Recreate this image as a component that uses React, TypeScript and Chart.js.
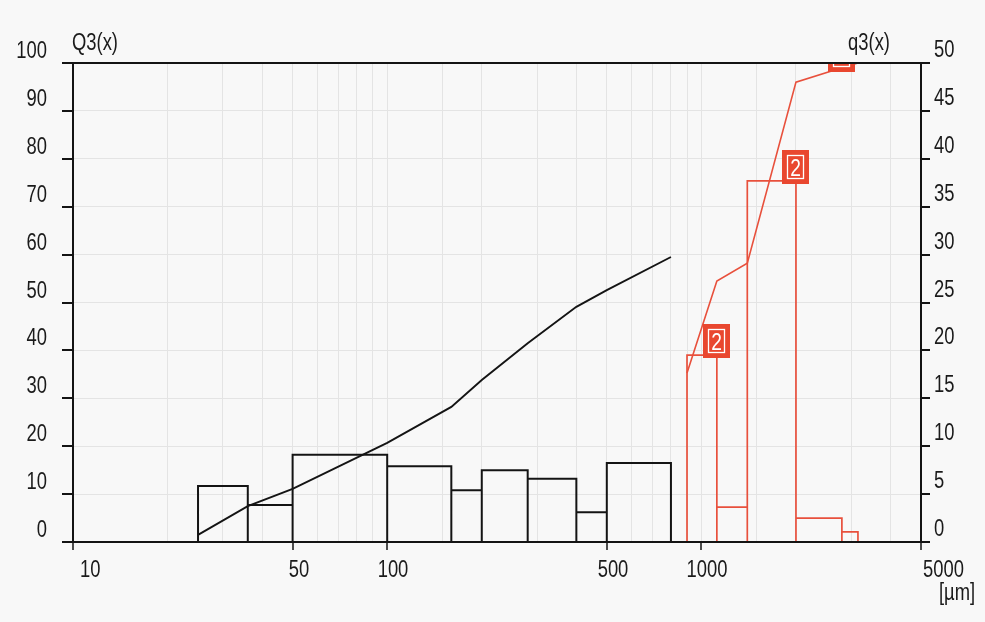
import React, { useEffect, useRef } from "react";
import { Chart, registerables } from "chart.js";

Chart.register(...registerables);

// ---- data ----
const blackEdges = [25, 36, 50, 100, 160, 200, 280, 400, 500, 800];
const blackDensity = [5.85, 3.85, 9.1, 7.9, 5.4, 7.5, 6.6, 3.1, 8.25];
const blackCumulative = [1.5, 7.5, 11.1, 20.7, 28.2, 33.8, 41.5, 49.1, 52.6, 59.5];

const redEdges = [900, 1120, 1400, 2000, 2800, 3150];
const redDensity = [19.5, 3.65, 37.7, 2.5, 1.05];
const redCumulative = [35.3, 54.5, 58.2, 96.0, 99.0, 100];

const markerX = [1120, 2000, 2800];
const markerQ3 = [19.2, 37.4, 49.1];
const markerLabels = ["2", "2", "2"];

const xTickValues = [10, 50, 100, 500, 1000, 5000];
const xTickLabels = ["10", "50", "100", "500", "1000", "5000"];
const leftTickValues = [0, 10, 20, 30, 40, 50, 60, 70, 80, 90, 100];
const rightTickValues = [0, 5, 10, 15, 20, 25, 30, 35, 40, 45, 50];

const leftTitle = "Q3(x)";
const rightTitle = "q3(x)";
const xUnit = "[µm]";

// ---- styles ----
const BG = "#f8f8f8";
const TEXT = "#1a1a1a";
const GRID = "#e4e4e4";
const BLACK = "#141414";
const RED = "#e8503c";
const MARKER = "#e9472f";
const FONT = '"Liberation Sans", Arial, sans-serif';
const SX = 0.8; // horizontal squeeze to mimic a narrow face

function outline(edges: number[], heights: number[]) {
  const pts: { x: number; y: number | null }[] = [];
  for (let i = 0; i < heights.length; i++) {
    const h = heights[i];
    pts.push({ x: edges[i], y: 0 });
    pts.push({ x: edges[i], y: h });
    pts.push({ x: edges[i + 1], y: h });
    pts.push({ x: edges[i + 1], y: 0 });
    pts.push({ x: edges[i + 1], y: null });
  }
  return pts;
}

function cumulative(edges: number[], vals: number[]) {
  return vals.map((v, i) => ({ x: edges[i], y: v }));
}

function narrowText(ctx: CanvasRenderingContext2D, text: string, x: number, y: number, align: "left" | "right" | "center") {
  const w = ctx.measureText(text).width * SX;
  let left = x;
  if (align === "right") left = x - w;
  else if (align === "center") left = x - w / 2;
  ctx.save();
  ctx.translate(left, y);
  ctx.scale(SX, 1);
  ctx.textAlign = "left";
  ctx.fillText(text, 0, 0);
  ctx.restore();
}

const overlay = {
  id: "overlay",
  beforeDraw(chart: any) {
    const { ctx } = chart;
    ctx.save();
    ctx.fillStyle = BG;
    ctx.fillRect(0, 0, chart.width, chart.height);
    ctx.restore();
  },
  afterDatasetsDraw(chart: any) {
    const { ctx, chartArea } = chart;
    const xs = chart.scales.x;
    const yr = chart.scales.y2;
    ctx.save();
    ctx.beginPath();
    ctx.rect(chartArea.left, chartArea.top, chartArea.right - chartArea.left, chartArea.bottom - chartArea.top);
    ctx.clip();
    const w = 27;
    const h = 34;
    for (let i = 0; i < markerX.length; i++) {
      const cx = xs.getPixelForValue(markerX[i]);
      const bottom = yr.getPixelForValue(markerQ3[i]);
      const left = Math.round(cx - w / 2);
      const top = Math.round(bottom - h);
      ctx.fillStyle = MARKER;
      ctx.fillRect(left, top, w, h);
      ctx.strokeStyle = "#ffffff";
      ctx.lineWidth = 1.3;
      ctx.strokeRect(left + 5.5, top + 5.5, w - 11, h - 11);
      ctx.fillStyle = "#ffffff";
      ctx.font = `24px ${FONT}`;
      ctx.textBaseline = "alphabetic";
      narrowText(ctx, markerLabels[i], left + w / 2, top + h / 2 + 8.5, "center");
    }
    ctx.restore();
  },
  afterDraw(chart: any) {
    const { ctx, chartArea } = chart;
    const xs = chart.scales.x;
    const yl = chart.scales.y;
    const yr = chart.scales.y2;
    const L = chartArea.left;
    const R = chartArea.right;
    const T = chartArea.top;
    const B = chartArea.bottom;
    ctx.save();
    // frame
    ctx.strokeStyle = BLACK;
    ctx.lineWidth = 2;
    ctx.beginPath();
    ctx.moveTo(L, T);
    ctx.lineTo(R, T);
    ctx.lineTo(R, B);
    ctx.lineTo(L, B);
    ctx.closePath();
    ctx.stroke();

    ctx.font = `23px ${FONT}`;
    ctx.fillStyle = TEXT;
    ctx.textBaseline = "alphabetic";
    // left ticks + labels
    ctx.lineWidth = 2;
    leftTickValues.forEach((v) => {
      const y = Math.round(yl.getPixelForValue(v));
      ctx.beginPath();
      ctx.moveTo(L - 11, y);
      ctx.lineTo(L, y);
      ctx.stroke();
      narrowText(ctx, String(v), L - 26, y - 5, "right");
    });
    // right ticks + labels
    rightTickValues.forEach((v) => {
      const y = Math.round(yr.getPixelForValue(v));
      ctx.beginPath();
      ctx.moveTo(R, y);
      ctx.lineTo(R + 9, y);
      ctx.stroke();
      narrowText(ctx, String(v), R + 13, y - 6, "left");
    });
    // bottom ticks + labels
    ctx.lineWidth = 1.5;
    xTickValues.forEach((v, i) => {
      const x = Math.min(R, Math.round(xs.getPixelForValue(v)));
      ctx.beginPath();
      ctx.moveTo(x, B);
      ctx.lineTo(x, B + 8);
      ctx.stroke();
      if (i === 0) narrowText(ctx, xTickLabels[i], x + 7, B + 35, "left");
      else if (i === xTickValues.length - 1) narrowText(ctx, xTickLabels[i], x + 2, B + 35, "left");
      else narrowText(ctx, xTickLabels[i], x + 6, B + 35, "center");
    });
    // titles
    narrowText(ctx, leftTitle, L - 1, T - 13, "left");
    narrowText(ctx, rightTitle, R - 31, T - 13, "right");
    narrowText(ctx, xUnit, R + 18, B + 58, "left");
    ctx.restore();
  },
};

export default function App() {
  const ref = useRef<HTMLCanvasElement | null>(null);

  useEffect(() => {
    if (!ref.current) return;
    const chart = new Chart(ref.current, {
      type: "line",
      data: {
        datasets: [
          {
            label: "q3 black",
            data: outline(blackEdges, blackDensity) as any,
            yAxisID: "y2",
            borderColor: BLACK,
            borderWidth: 2,
            pointRadius: 0,
            spanGaps: false,
            tension: 0,
            fill: false,
          },
          {
            label: "q3 red",
            data: outline(redEdges, redDensity) as any,
            yAxisID: "y2",
            borderColor: RED,
            borderWidth: 1.7,
            pointRadius: 0,
            spanGaps: false,
            tension: 0,
            fill: false,
          },
          {
            label: "Q3 black",
            data: cumulative(blackEdges, blackCumulative) as any,
            yAxisID: "y",
            borderColor: BLACK,
            borderWidth: 1.9,
            pointRadius: 0,
            tension: 0,
            fill: false,
          },
          {
            label: "Q3 red",
            data: cumulative(redEdges, redCumulative) as any,
            yAxisID: "y",
            borderColor: RED,
            borderWidth: 1.6,
            pointRadius: 0,
            tension: 0,
            fill: false,
          },
        ],
      },
      options: {
        responsive: false,
        animation: false,
        devicePixelRatio: 1,
        layout: { padding: { left: 73, right: 64, top: 63, bottom: 80 } },
        plugins: {
          legend: { display: false },
          tooltip: { enabled: false },
        },
        scales: {
          x: {
            type: "logarithmic",
            min: 10,
            max: 5000,
            ticks: { display: false },
            grid: { color: GRID, lineWidth: 1, drawTicks: false },
            border: { display: false },
          },
          y: {
            type: "linear",
            position: "left",
            min: 0,
            max: 100,
            ticks: { display: false, stepSize: 10 },
            grid: { color: GRID, lineWidth: 1, drawTicks: false },
            border: { display: false },
          },
          y2: {
            type: "linear",
            position: "right",
            min: 0,
            max: 50,
            display: false,
          },
        },
      },
      plugins: [overlay],
    });
    return () => chart.destroy();
  }, []);

  return (
    <div style={{ position: "fixed", left: 0, top: 0, width: 985, height: 622, background: BG }}>
      <canvas ref={ref} width={985} height={622} style={{ display: "block" }} />
    </div>
  );
}
